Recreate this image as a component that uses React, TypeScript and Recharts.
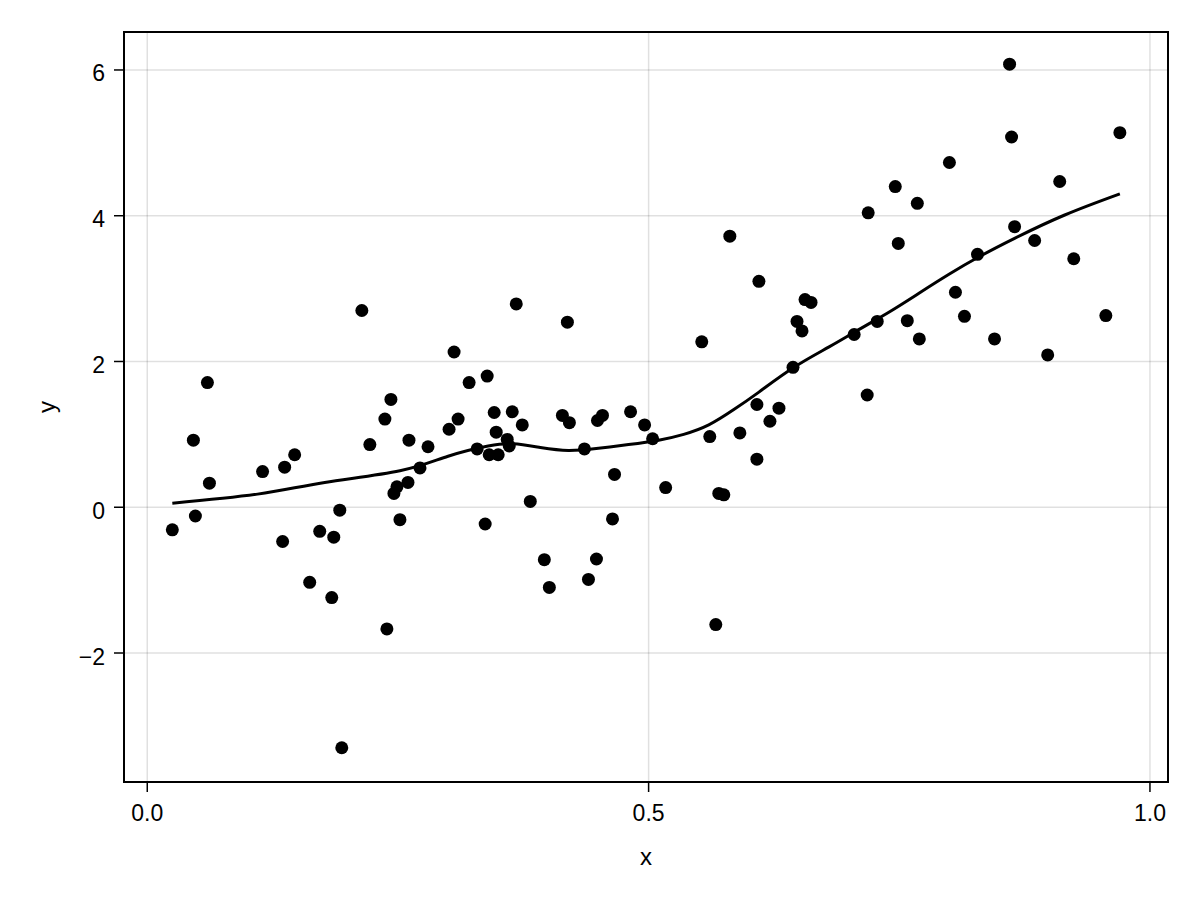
import React from 'react';
import { ComposedChart, Scatter, Line, XAxis, YAxis, CartesianGrid, Label, ReferenceArea } from 'recharts';

const pointX = [0.025,0.046,0.048,0.060,0.062,0.115,0.135,0.137,0.147,0.162,0.172,0.184,0.186,0.192,0.194,0.214,0.222,0.237,0.239,0.243,0.246,0.249,0.252,0.260,0.261,0.272,0.280,0.301,0.306,0.310,0.321,0.329,0.337,0.339,0.341,0.346,0.348,0.350,0.359,0.361,0.364,0.368,0.374,0.382,0.396,0.401,0.414,0.419,0.421,0.436,0.440,0.448,0.449,0.454,0.464,0.466,0.482,0.496,0.504,0.517,0.553,0.561,0.567,0.570,0.575,0.581,0.591,0.608,0.608,0.610,0.621,0.630,0.644,0.648,0.653,0.656,0.662,0.705,0.718,0.719,0.728,0.746,0.749,0.758,0.768,0.770,0.800,0.806,0.815,0.828,0.845,0.860,0.862,0.865,0.885,0.898,0.910,0.924,0.956,0.970];
const pointY = [-0.31,0.92,-0.12,1.71,0.33,0.49,-0.47,0.55,0.72,-1.03,-0.33,-1.24,-0.41,-0.04,-3.30,2.70,0.86,1.21,-1.67,1.48,0.19,0.28,-0.17,0.34,0.92,0.54,0.83,1.07,2.13,1.21,1.71,0.80,-0.23,1.80,0.72,1.30,1.03,0.72,0.93,0.84,1.31,2.79,1.13,0.08,-0.72,-1.10,1.26,2.54,1.16,0.80,-0.99,-0.71,1.19,1.26,-0.16,0.45,1.31,1.13,0.94,0.27,2.27,0.97,-1.61,0.19,0.17,3.72,1.02,1.41,0.66,3.10,1.18,1.36,1.92,2.55,2.42,2.85,2.81,2.37,1.54,4.04,2.55,4.40,3.62,2.56,4.17,2.31,4.73,2.95,2.62,3.47,2.31,6.08,5.08,3.85,3.66,2.09,4.47,3.41,2.63,5.14];

const smoothX = [0.025,0.110,0.177,0.252,0.300,0.340,0.365,0.392,0.420,0.450,0.480,0.510,0.535,0.560,0.585,0.610,0.645,0.680,0.710,0.740,0.770,0.800,0.830,0.865,0.915,0.970];
const smoothY = [0.055,0.18,0.34,0.50,0.70,0.84,0.87,0.82,0.78,0.81,0.86,0.92,1.00,1.13,1.34,1.58,1.92,2.20,2.44,2.68,2.94,3.20,3.44,3.69,4.01,4.30];

const xTicks = [0, 0.5, 1];
const yTicks = [-2, 0, 2, 4, 6];
const xDomain: [number, number] = [-0.0232, 1.018];
const yDomain: [number, number] = [-3.77, 6.521];

const points = pointX.map((x, i) => ({ x, y: pointY[i] }));
const smooth = smoothX.map((x, i) => ({ x, y: smoothY[i] }));

const FONT = '"Liberation Sans", Arial, sans-serif';
const gridColor = 'rgba(0,0,0,0.12)';
const TICK_FS = 23;
const LABEL_FS = 24;

const Dot = (props: any) => <circle cx={props.cx} cy={props.cy} r={6.5} fill="#000" />;

const fmtX = (v: number) => v.toFixed(1);
const fmtY = (v: number) => String(v).replace('-', '\u2212');

const XTick = (p: any) => (
  <text x={p.x} y={p.y} dy="0.71em" textAnchor="middle" fontSize={TICK_FS} fontFamily={FONT} fill="#000">
    {fmtX(p.payload.value)}
  </text>
);
const YTick = (p: any) => (
  <text x={p.x} y={p.y} dy="0.5em" textAnchor="end" fontSize={TICK_FS} fontFamily={FONT} fill="#000">
    {fmtY(p.payload.value)}
  </text>
);

export default function App() {
  return (
    <div style={{ position: 'absolute', left: 0, top: 0, width: 1200, height: 900, background: '#fff', fontFamily: FONT }}>
      <ComposedChart width={1200} height={900} margin={{ top: 32, right: 32, left: 0, bottom: 0 }}>
        <CartesianGrid xAxisId="main" yAxisId="main" stroke={gridColor} strokeWidth={1.5} />
        <XAxis
          xAxisId="main"
          type="number"
          dataKey="x"
          domain={xDomain}
          ticks={xTicks}
          allowDataOverflow
          height={118}
          tick={XTick}
          tickSize={10}
          tickMargin={13}
          tickLine={{ stroke: '#000', strokeWidth: 1.5 }}
          axisLine={{ stroke: '#000', strokeWidth: 2 }}
        >
          <Label
            content={(p: any) => {
              const vb = p.viewBox;
              return (
                <text x={vb.x + vb.width / 2} y={vb.y + 74} textAnchor="middle" dominantBaseline="central" fontSize={LABEL_FS} fill="#000" fontFamily={FONT}>x</text>
              );
            }}
          />
        </XAxis>
        <YAxis
          yAxisId="main"
          type="number"
          dataKey="y"
          domain={yDomain}
          ticks={yTicks}
          allowDataOverflow
          width={124}
          tick={YTick}
          tickSize={10}
          tickMargin={9}
          tickLine={{ stroke: '#000', strokeWidth: 1.5 }}
          axisLine={{ stroke: '#000', strokeWidth: 2 }}
        >
          <Label
            content={(p: any) => {
              const vb = p.viewBox;
              const cx = vb.x + 46;
              const cy = vb.y + vb.height / 2;
              return (
                <text x={cx} y={cy} transform={`rotate(-90 ${cx} ${cy})`} textAnchor="middle" dominantBaseline="central" fontSize={LABEL_FS} fill="#000" fontFamily={FONT}>y</text>
              );
            }}
          />
        </YAxis>
        <ReferenceArea
          xAxisId="main"
          yAxisId="main"
          x1={xDomain[0]}
          x2={xDomain[1]}
          y1={yDomain[0]}
          y2={yDomain[1]}
          ifOverflow="extendDomain"
          fill="none"
          fillOpacity={0}
          stroke="#000"
          strokeWidth={2}
        />
        <Line
          xAxisId="main"
          yAxisId="main"
          data={smooth}
          dataKey="y"
          type="natural"
          stroke="#000"
          strokeWidth={3}
          dot={false}
          activeDot={false}
          isAnimationActive={false}
        />
        <Scatter
          xAxisId="main"
          yAxisId="main"
          data={points}
          dataKey="y"
          shape={Dot}
          isAnimationActive={false}
        />
      </ComposedChart>
    </div>
  );
}
